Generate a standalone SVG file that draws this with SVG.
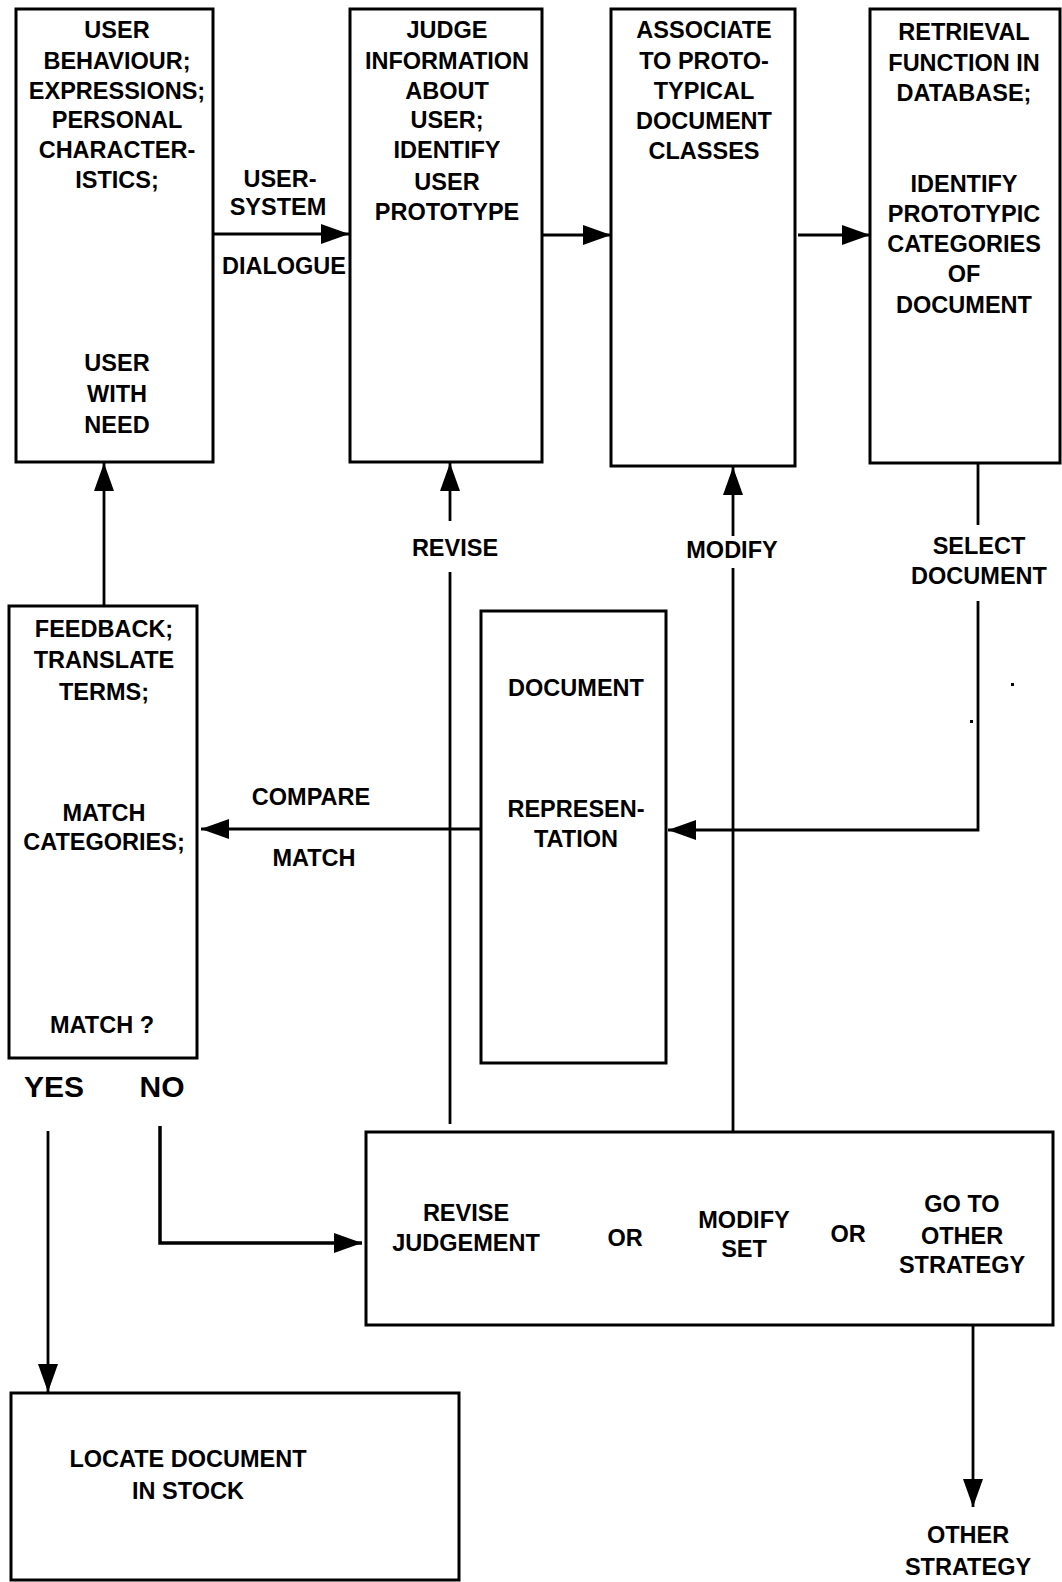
<svg xmlns="http://www.w3.org/2000/svg" width="1062" height="1582" viewBox="0 0 1062 1582">
<style>
.box{fill:#fff;stroke:#000;stroke-width:3}
.t{font-family:"Liberation Sans",Arial,sans-serif;font-weight:bold;font-size:23.5px;fill:#000;text-anchor:middle}
.big{font-size:30px}
.c{fill:none;stroke:#000;stroke-width:2.8}
.thick{stroke-width:3.5}
</style>
<defs>
<marker id="ah" markerUnits="userSpaceOnUse" markerWidth="30" markerHeight="22" refX="28" refY="10" orient="auto" overflow="visible">
<path d="M0,0 L28,10 L0,20 Z" fill="#000"/>
</marker>
</defs>
<rect width="1062" height="1582" fill="#fff"/>
<g id="connectors">
<path class="c" d="M213,234 L349,234" marker-end="url(#ah)"/>
<path class="c" d="M542,235 L611,235" marker-end="url(#ah)"/>
<path class="c" d="M798,235 L870,235" marker-end="url(#ah)"/>
<path class="c" d="M104,606 L104,463" marker-end="url(#ah)"/>
<path class="c" d="M450,1124 L450,572"/>
<path class="c" d="M450,521 L450,463" marker-end="url(#ah)"/>
<path class="c" d="M733,1133 L733,568"/>
<path class="c" d="M733,536 L733,467" marker-end="url(#ah)"/>
<path class="c" d="M978,463 L978,525"/>
<path class="c" d="M978,601 L978,830 L668,830" marker-end="url(#ah)"/>
<path class="c" d="M481,829 L201,829" marker-end="url(#ah)"/>
<path class="c" d="M48,1131 L48,1392" marker-end="url(#ah)"/>
<path class="c thick" d="M160,1126 L160,1243 L362,1243" marker-end="url(#ah)"/>
<path class="c" d="M973,1320 L973,1507" marker-end="url(#ah)"/>
<text class="t" x="280" y="187">USER-</text>
<text class="t" x="278" y="215">SYSTEM</text>
<text class="t" x="284" y="274">DIALOGUE</text>
<text class="t" x="455" y="556">REVISE</text>
<text class="t" x="732" y="558">MODIFY</text>
<text class="t" x="979" y="554">SELECT</text>
<text class="t" x="979" y="584">DOCUMENT</text>
<text class="t" x="311" y="805">COMPARE</text>
<text class="t" x="314" y="866">MATCH</text>
<text class="t big" x="54" y="1097">YES</text>
<text class="t big" x="162" y="1097">NO</text>
<text class="t" x="968" y="1543">OTHER</text>
<text class="t" x="968" y="1575">STRATEGY</text>
<rect x="1011" y="683" width="3" height="3" fill="#000"/>
<rect x="970" y="720" width="3" height="3" fill="#000"/>
</g>
<g id="user">
<rect class="box" x="16" y="9" width="197" height="453"/>
<text class="t" x="117" y="38">USER</text>
<text class="t" x="117" y="69">BEHAVIOUR;</text>
<text class="t" x="117" y="99">EXPRESSIONS;</text>
<text class="t" x="117" y="128">PERSONAL</text>
<text class="t" x="117" y="158">CHARACTER-</text>
<text class="t" x="117" y="188">ISTICS;</text>
<text class="t" x="117" y="371">USER</text>
<text class="t" x="117" y="402">WITH</text>
<text class="t" x="117" y="433">NEED</text>
</g>
<g id="judge">
<rect class="box" x="350" y="9" width="192" height="453"/>
<text class="t" x="447" y="38">JUDGE</text>
<text class="t" x="447" y="69">INFORMATION</text>
<text class="t" x="447" y="99">ABOUT</text>
<text class="t" x="447" y="128">USER;</text>
<text class="t" x="447" y="158">IDENTIFY</text>
<text class="t" x="447" y="190">USER</text>
<text class="t" x="447" y="220">PROTOTYPE</text>
</g>
<g id="associate">
<rect class="box" x="611" y="9" width="184" height="457"/>
<text class="t" x="704" y="38">ASSOCIATE</text>
<text class="t" x="704" y="69">TO PROTO-</text>
<text class="t" x="704" y="99">TYPICAL</text>
<text class="t" x="704" y="129">DOCUMENT</text>
<text class="t" x="704" y="159">CLASSES</text>
</g>
<g id="retrieval">
<rect class="box" x="870" y="9" width="190" height="454"/>
<text class="t" x="964" y="40">RETRIEVAL</text>
<text class="t" x="964" y="71">FUNCTION IN</text>
<text class="t" x="964" y="101">DATABASE;</text>
<text class="t" x="964" y="192">IDENTIFY</text>
<text class="t" x="964" y="222">PROTOTYPIC</text>
<text class="t" x="964" y="252">CATEGORIES</text>
<text class="t" x="964" y="282">OF</text>
<text class="t" x="964" y="313">DOCUMENT</text>
</g>
<g id="feedback">
<rect class="box" x="9" y="606" width="188" height="452"/>
<text class="t" x="104" y="637">FEEDBACK;</text>
<text class="t" x="104" y="668">TRANSLATE</text>
<text class="t" x="104" y="700">TERMS;</text>
<text class="t" x="104" y="821">MATCH</text>
<text class="t" x="104" y="850">CATEGORIES;</text>
<text class="t" x="102" y="1033">MATCH ?</text>
</g>
<g id="docrep">
<rect class="box" x="481" y="611" width="185" height="452"/>
<text class="t" x="576" y="696">DOCUMENT</text>
<text class="t" x="576" y="817">REPRESEN-</text>
<text class="t" x="576" y="847">TATION</text>
</g>
<g id="options">
<rect class="box" x="366" y="1132" width="687" height="193"/>
<text class="t" x="466" y="1221">REVISE</text>
<text class="t" x="466" y="1251">JUDGEMENT</text>
<text class="t" x="625" y="1246">OR</text>
<text class="t" x="744" y="1228">MODIFY</text>
<text class="t" x="744" y="1257">SET</text>
<text class="t" x="848" y="1242">OR</text>
<text class="t" x="962" y="1212">GO TO</text>
<text class="t" x="962" y="1244">OTHER</text>
<text class="t" x="962" y="1273">STRATEGY</text>
</g>
<g id="locate">
<rect class="box" x="11" y="1393" width="448" height="187"/>
<text class="t" x="188" y="1467">LOCATE DOCUMENT</text>
<text class="t" x="188" y="1499">IN STOCK</text>
</g>
</svg>
